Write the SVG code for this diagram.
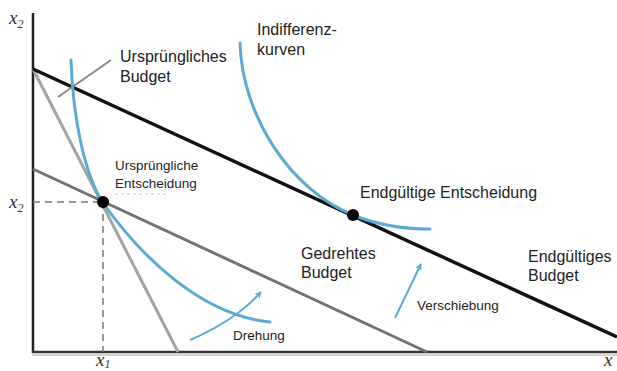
<svg xmlns="http://www.w3.org/2000/svg" width="617" height="371" viewBox="0 0 617 371">
<style>
  .lbl { font-family: "Liberation Sans", Arial, sans-serif; font-size: 16px; fill: #222; }
  .sml { font-family: "Liberation Sans", Arial, sans-serif; font-size: 13.5px; fill: #222; }
  .ax { font-family: "Liberation Serif", "Times New Roman", serif; font-style: italic; font-size: 19px; fill: #333; }
  .sub { font-size: 12px; }
  .ic { fill: none; stroke: #5aaad2; stroke-width: 3; stroke-linecap: round; }
  .arr { fill: none; stroke: #5aaad2; stroke-width: 2; marker-end: url(#ah); }
  .dash { fill: none; stroke: #777; stroke-width: 1.5; stroke-dasharray: 7 5; }
</style>
<defs>
  <marker id="ah" viewBox="0 0 10 10" refX="9" refY="5" markerWidth="7" markerHeight="7" orient="auto" markerUnits="userSpaceOnUse">
    <path d="M0,0 L10,5 L0,10 L3,5 Z" fill="#5aaad2"/>
  </marker>
</defs>
<rect width="617" height="371" fill="#fff"/>

<g id="axes">
  <line x1="33" y1="13" x2="33" y2="353" stroke="#222" stroke-width="2.5"/>
  <line x1="32" y1="352" x2="617" y2="352" stroke="#333" stroke-width="2.5"/>
  <line x1="32" y1="355" x2="617" y2="355" stroke="#aaa" stroke-width="1"/>
  <text class="ax" x="9" y="24">x<tspan class="sub" dy="4">2</tspan></text>
  <text class="ax" x="9" y="208">x<tspan class="sub" dy="4">2</tspan></text>
  <text class="ax" x="96" y="366">x<tspan class="sub" dy="2">1</tspan></text>
  <text class="ax" x="604" y="366">x</text>
</g>

<g id="connectors">
  <line x1="33" y1="69" x2="178" y2="352" stroke="#a3a3a3" stroke-width="3"/>
  <line x1="33" y1="169" x2="427" y2="352" stroke="#737373" stroke-width="3"/>
  <line x1="33" y1="69" x2="617" y2="337" stroke="#111" stroke-width="3.5"/>
  <line class="dash" x1="33" y1="202" x2="103" y2="202"/>
  <line class="dash" x1="103" y1="202" x2="103" y2="352"/>
  <line x1="58" y1="97" x2="111" y2="60" stroke="#888" stroke-width="2"/>
  <line x1="115" y1="194" x2="166" y2="194" stroke="#ccc" stroke-width="1.2" stroke-dasharray="3 3"/>
  <path class="arr" d="M190,340 Q236,320 261,292"/>
  <line class="arr" x1="395" y1="318" x2="421" y2="264"/>
</g>

<g id="indifference-curves">
  <path class="ic" d="M71,60 C73,120 85,175 103,203 C140,255 200,315 270,322"/>
  <path class="ic" d="M240,43 C242,115 290,190 353,215 C380,226 405,229 430,229"/>
</g>

<g id="original-choice">
  <circle cx="103" cy="202" r="6" fill="#000"/>
  <text class="sml" x="115" y="170">Ursprüngliche</text>
  <text class="sml" x="115" y="188">Entscheidung</text>
</g>

<g id="final-choice">
  <circle cx="353" cy="215" r="6" fill="#000"/>
  <text class="lbl" x="360" y="198">Endgültige Entscheidung</text>
</g>

<g id="label-original-budget">
  <text class="lbl" x="120" y="62">Ursprüngliches</text>
  <text class="lbl" x="120" y="82">Budget</text>
</g>

<g id="label-indifference">
  <text class="lbl" x="257" y="35">Indifferenz-</text>
  <text class="lbl" x="257" y="55">kurven</text>
</g>

<g id="label-rotated-budget">
  <text class="lbl" x="301" y="259">Gedrehtes</text>
  <text class="lbl" x="301" y="278">Budget</text>
</g>

<g id="label-final-budget">
  <text class="lbl" x="528" y="262">Endgültiges</text>
  <text class="lbl" x="528" y="281">Budget</text>
</g>

<g id="label-rotation">
  <text class="sml" x="233" y="340">Drehung</text>
</g>

<g id="label-shift">
  <text class="sml" x="417" y="310">Verschiebung</text>
</g>
</svg>
